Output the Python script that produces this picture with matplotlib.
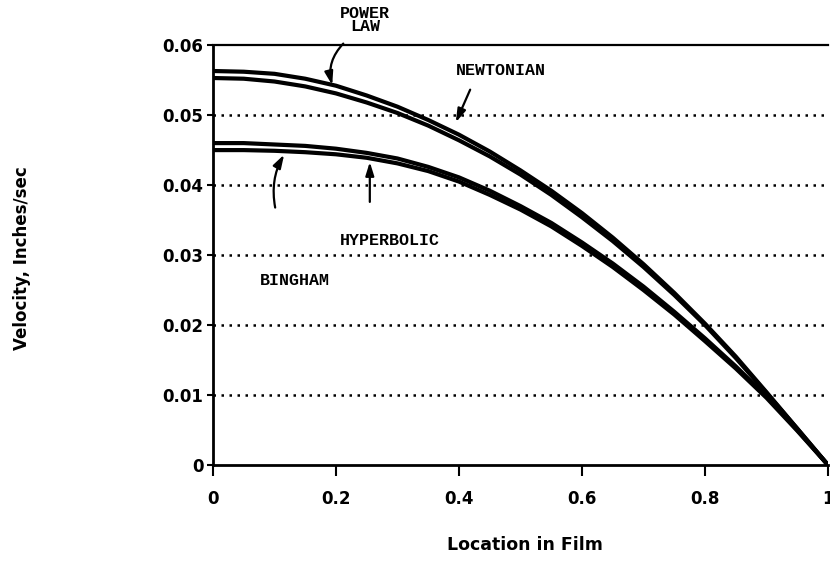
import numpy as np
import matplotlib
matplotlib.use('Agg')
import matplotlib.pyplot as plt

# location across the film (0 = centre, 1 = wall)
location = [0.0, 0.05, 0.1, 0.15, 0.2, 0.25, 0.3, 0.35, 0.4, 0.45, 0.5,
            0.55, 0.6, 0.65, 0.7, 0.75, 0.8, 0.85, 0.9, 0.95, 1.0]

# velocity profiles, inches/sec
power_law  = [0.0563, 0.0562, 0.0559, 0.0552, 0.0542, 0.0528, 0.0512, 0.0493, 0.0472, 0.0448, 0.0421,
              0.0392, 0.0360, 0.0325, 0.0287, 0.0246, 0.0202, 0.0155, 0.0104, 0.0052, 0.0]
newtonian  = [0.0553, 0.0552, 0.0548, 0.0541, 0.0531, 0.0518, 0.0503, 0.0485, 0.0464, 0.0441, 0.0415,
              0.0386, 0.0354, 0.0320, 0.0283, 0.0243, 0.0200, 0.0153, 0.0103, 0.0052, 0.0]
hyperbolic = [0.0460, 0.0460, 0.0458, 0.0456, 0.0452, 0.0446, 0.0438, 0.0426, 0.0411, 0.0392, 0.0370,
              0.0346, 0.0318, 0.0288, 0.0255, 0.0219, 0.0181, 0.0141, 0.0098, 0.0050, 0.0]
bingham    = [0.0450, 0.0450, 0.0449, 0.0447, 0.0444, 0.0439, 0.0431, 0.0420, 0.0405, 0.0386, 0.0365,
              0.0341, 0.0313, 0.0283, 0.0250, 0.0215, 0.0177, 0.0138, 0.0096, 0.0049, 0.0]

xticks = [0, 0.2, 0.4, 0.6, 0.8, 1.0]
xtick_labels = ['0', '0.2', '0.4', '0.6', '0.8', '1']
yticks = [0, 0.01, 0.02, 0.03, 0.04, 0.05, 0.06]
ytick_labels = ['0', '0.01', '0.02', '0.03', '0.04', '0.05', '0.06']

fig = plt.figure(figsize=(8.3, 5.64), dpi=100)
ax = fig.add_axes([0.2566, 0.1755, 0.741, 0.7445])

for v in [power_law, newtonian, hyperbolic, bingham]:
    ax.plot(location, v, color='black', lw=3, solid_capstyle='round', solid_joinstyle='round')

# dotted grid lines
for yv in yticks[1:-1]:
    ax.axhline(yv, color='black', lw=1.8, ls=(0, (1, 2.2)), zorder=0)

ax.set_xlim(0, 1)
ax.set_ylim(0, 0.06)
ax.set_xticks(xticks)
ax.set_xticklabels(xtick_labels)
ax.set_yticks(yticks)
ax.set_yticklabels(ytick_labels)
ax.tick_params(axis='x', direction='out', length=8, width=1.5, labelsize=12, pad=10)
ax.tick_params(axis='y', direction='out', length=4, width=1.5, labelsize=12, pad=3)
for lbl in ax.get_xticklabels() + ax.get_yticklabels():
    lbl.set_fontweight('bold')

ax.spines['left'].set_linewidth(2)
ax.spines['bottom'].set_linewidth(2)
ax.spines['top'].set_linewidth(1.6)
ax.spines['right'].set_visible(False)

ax.set_xlabel('Location in Film', fontsize=12.5, fontweight='bold')
ax.xaxis.set_label_coords(0.507, -0.17)
fig.text(0.027, 0.542, 'Velocity, Inches/sec', rotation=90, fontsize=12,
         fontweight='bold', ha='center', va='center')

# curve labels with arrows
lab = dict(family='Liberation Mono', fontweight='bold', fontsize=12,
           ha='center', va='center')
ax.text(0.247, 0.0636, 'POWER\nLAW', linespacing=0.9, clip_on=False, **lab)
ax.text(0.468, 0.0564, 'NEWTONIAN', **lab)
ax.text(0.288, 0.0321, 'HYPERBOLIC', **lab)
ax.text(0.133, 0.0264, 'BINGHAM', **lab)

arr = dict(arrowstyle='-|>,head_length=0.8,head_width=0.25', color='black', lw=1.6)
ax.annotate('', xy=(0.195, 0.0539), xytext=(0.215, 0.0605),
            arrowprops=dict(connectionstyle='arc3,rad=0.3', **arr), annotation_clip=False)
ax.annotate('', xy=(0.393, 0.0486), xytext=(0.42, 0.054),
            arrowprops=dict(connectionstyle='arc3,rad=0', **arr))
ax.annotate('', xy=(0.118, 0.0447), xytext=(0.102, 0.0364),
            arrowprops=dict(connectionstyle='arc3,rad=-0.2', **arr))
ax.annotate('', xy=(0.255, 0.0437), xytext=(0.255, 0.0372),
            arrowprops=dict(connectionstyle='arc3,rad=0', **arr))

plt.savefig('out.png', dpi=100)
